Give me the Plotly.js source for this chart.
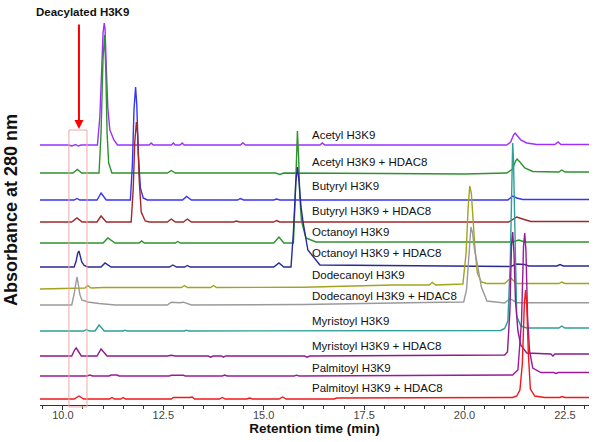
<!DOCTYPE html>
<html>
<head>
<meta charset="utf-8">
<script src="https://cdn.plot.ly/plotly-3.0.1.min.js"></script>
<style>html,body{margin:0;padding:0;background:#fff}#chart{width:600px;height:442px}</style>
</head>
<body>
<div id="chart"></div>
<script>
// ---- data (retention time in min, absorbance above each trace's baseline, arbitrary units) ----
var names = ["Acetyl H3K9", "Acetyl H3K9 + HDAC8", "Butyryl H3K9", "Butyryl H3K9 + HDAC8",
  "Octanoyl H3K9", "Octanoyl H3K9 + HDAC8", "Dodecanoyl H3K9", "Dodecanoyl H3K9 + HDAC8",
  "Myristoyl H3K9", "Myristoyl H3K9 + HDAC8", "Palmitoyl H3K9", "Palmitoyl H3K9 + HDAC8"];
var offsets = [260, 232, 205, 183, 162, 138, 117, 100, 74, 49, 29, 6];

var tA1 = [9.43, 10.15, 10.22, 10.27, 10.32, 10.38, 10.45, 10.86, 10.92, 10.97, 11.0, 11.03, 11.05, 11.08, 11.12, 11.17, 11.27, 11.36, 12.15, 12.2, 12.25, 12.7, 12.75, 12.8, 12.92, 12.97, 13.02, 14.42, 14.48, 14.55, 16.4, 16.46, 16.52, 21.05, 21.15, 21.22, 21.26, 21.32, 21.4, 21.55, 21.8, 22.25, 22.33, 22.4, 23.1];
var vA1 = [0, 0, -1, 0, 0.5, -1, 0, 0, 28, 80, 112, 122, 116, 78, 36, 15, 5, 0, 0, 2, 0, 0, 2, 0, 0, 2, 0, 0, 2, 0, 0, 2, 0, 0, 3, 10, 12, 9, 5, 2, 0.5, 0.5, 3, 0.5, 0.5];

var tA2 = [9.43, 10.25, 10.36, 10.47, 10.9, 10.95, 11.0, 11.04, 11.07, 11.1, 11.14, 11.22, 12.6, 12.7, 12.8, 15.3, 15.4, 15.5, 18.0, 20.0, 21.05, 21.2, 21.27, 21.31, 21.38, 21.5, 21.7, 22.0, 22.35, 22.42, 22.5, 23.1];
var vA2 = [0, 0, 3.5, 0, 0, 40, 115, 138, 100, 40, 10, 0, 0, 2.5, 0, 0, -1.5, 0, -0.5, -1, 0, 4, 12, 14, 11, 5, 1.5, 1, 1, 3, 1, 1];

var tB1 = [9.43, 10.28, 10.35, 10.42, 10.85, 10.95, 11.08, 11.68, 11.73, 11.77, 11.81, 11.84, 11.88, 11.93, 12.0, 12.1, 12.98, 13.08, 13.2, 14.35, 14.42, 14.5, 15.25, 15.32, 15.4, 21.08, 21.2, 21.3, 21.45, 23.1];
var vB1 = [0, 0, 1.5, 0, 0, 7, 0, 0, 35, 90, 113, 95, 45, 12, 2, 0, 0, 3.5, 0, 0, 1.5, 0, 0, 1, 0, 0, 4, 2, 0.5, 0.5];

var tB2 = [9.43, 10.22, 10.35, 10.48, 10.85, 10.95, 11.08, 11.7, 11.75, 11.79, 11.83, 11.86, 11.9, 11.95, 12.05, 12.15, 12.6, 12.7, 12.8, 13.0, 13.1, 13.2, 14.25, 14.32, 14.4, 15.25, 15.32, 15.4, 21.1, 21.3, 21.45, 21.65, 23.1];
var vB2 = [0, 0, 4, 0, 0, 6, 0, 0, 32, 80, 100, 88, 42, 10, 1, 0, 0, 3, 0, 0, 3, 0, 0, 1, 0, 0, 1.5, 0, 0, 5, 3, 0.5, 0.5];

var tO1 = [9.43, 11.0, 11.12, 11.3, 11.9, 11.96, 12.03, 12.8, 12.86, 12.93, 15.25, 15.38, 15.5, 15.74, 15.78, 15.81, 15.84, 15.87, 15.9, 15.94, 16.05, 16.3, 21.2, 21.35, 21.5, 23.1];
var vO1 = [0, 0, 5, 0, 0, 2, 0, 0, 1.5, 0, 0, 6, 0, 0, 40, 92, 112, 85, 45, 22, 5, 1, 1, 3, 1, 1];

var tO2 = [9.43, 10.28, 10.33, 10.37, 10.4, 10.43, 10.47, 10.53, 10.62, 10.95, 11.05, 11.2, 12.65, 12.74, 12.83, 13.03, 13.1, 13.17, 15.25, 15.38, 15.5, 15.68, 15.74, 15.8, 15.84, 15.88, 15.93, 15.98, 16.1, 16.4, 21.15, 21.3, 21.5, 21.6, 22.3, 22.38, 22.46, 23.1];
var vO2 = [0, 0, 6, 14, 16, 12, 5, 1.5, 0, 0, 4, 0, 0, 2, 0, 0, 1.5, 0, 0, 4, 0, 0, 35, 85, 100, 85, 60, 45, 17, 2, 0.5, 3, 2.5, 1, 1, 2.5, 1, 1];

var tD1 = [9.43, 10.2, 10.55, 10.62, 10.7, 11.0, 12.95, 13.03, 13.1, 13.68, 13.75, 13.82, 16.0, 18.2, 19.12, 19.2, 19.28, 19.96, 20.04, 20.09, 20.13, 20.17, 20.21, 20.26, 20.32, 20.42, 20.55, 21.0, 21.15, 21.3, 22.35, 22.42, 22.5, 23.1];
var vD1 = [-1, 0, 0, 2.5, 0, 0.5, 0.5, 2.5, 0.5, 0.5, 2.5, 0.5, 0.8, 3, 3, 5.5, 3, 4, 35, 80, 102, 95, 70, 40, 15, 6, 4.5, 4.5, 10, 4.5, 4.5, 6, 4.5, 4.5];

var tD2 = [9.43, 10.22, 10.28, 10.32, 10.35, 10.38, 10.42, 10.47, 10.55, 10.62, 10.9, 11.3, 12.6, 12.7, 12.9, 13.0, 13.2, 16.0, 19.0, 19.98, 20.05, 20.12, 20.16, 20.2, 20.25, 20.3, 20.42, 20.56, 21.0, 21.13, 21.3, 23.1];
var vD2 = [0, 0, 11, 24, 28, 22, 11, 5, 3.5, 3, 1.5, 0, 0, 2.8, 2.2, 2.8, 0, 0.5, 2.5, 3, 15, 55, 78, 72, 55, 45, 18, 4, 2, 6.5, 2.3, 2.3];

var tM1 = [9.43, 10.52, 10.59, 10.66, 10.8, 10.9, 11.03, 11.5, 11.55, 11.6, 13.03, 13.08, 13.13, 20.9, 21.0, 21.08, 21.14, 21.18, 21.2, 21.22, 21.26, 21.3, 21.4, 21.55, 22.35, 22.42, 22.5, 23.1];
var vM1 = [0, 0, 1.5, 0, 0, 6, 0, 0, 0.8, 0, 0, 0.8, 0, 0.5, 2.5, 10, 70, 170, 188, 170, 70, 15, 5, 3, 3, 5, 3, 3];

var tM2 = [9.43, 10.22, 10.29, 10.33, 10.38, 10.46, 10.85, 10.95, 11.1, 12.6, 12.7, 12.8, 13.62, 13.68, 13.74, 13.95, 14.0, 14.05, 16.02, 16.08, 16.15, 21.0, 21.07, 21.13, 21.17, 21.2, 21.23, 21.27, 21.33, 21.4, 21.55, 22.15, 22.2, 22.25, 23.1];
var vM2 = [0, 0, 6, 8, 5, 0, 0, 7, 0, 0, 0.8, 0, 0, -1.2, 0, 0, -1.2, 0, 0, -1.2, 0, 1, 4, 45, 110, 124, 105, 55, 25, 11, 3, 2, 0, 2, 2];

var tP1 = [9.43, 10.6, 10.67, 10.74, 11.15, 11.2, 11.35, 11.4, 12.65, 12.7, 13.0, 13.05, 13.97, 14.03, 14.09, 15.76, 15.82, 15.88, 21.2, 21.33, 21.42, 21.47, 21.5, 21.53, 21.57, 21.62, 21.7, 21.9, 22.22, 22.28, 22.34, 23.1];
var vP1 = [0, 0, 1, 0, 0, 1, 1, 0, 0, 0.7, 0.7, 0, 0, 1, 0, 0, 0.8, 0, 1, 6, 55, 130, 143, 125, 60, 25, 8, 3.5, 3.5, 2.5, 3.5, 3.5];

var tP2 = [9.43, 10.28, 10.4, 10.52, 11.16, 11.22, 11.28, 11.44, 11.5, 11.56, 12.7, 12.75, 13.15, 13.22, 13.28, 13.9, 13.97, 14.04, 14.58, 14.65, 14.72, 15.38, 15.47, 15.56, 16.75, 16.82, 21.2, 21.3, 21.38, 21.44, 21.49, 21.52, 21.55, 21.59, 21.64, 21.75, 22.0, 22.37, 22.43, 22.5, 23.1];
var vP2 = [0, 0, 3, 0, 0, 1.5, 0, 0, 1.5, 0, 0, 1.5, 1.5, 2, 0, 0, 1.5, 0, 0, 1, 0, 0, 2, 0, 0, 1, 1.5, 3, 9, 35, 95, 109, 95, 45, 10, 3, 1.5, 1.5, 2.5, 1.5, 1.5];

var times = [tA1, tA2, tB1, tB2, tO1, tO2, tD1, tD2, tM1, tM2, tP1, tP2];
var values = [vA1, vA2, vB1, vB2, vO1, vO2, vD1, vD2, vM1, vM2, vP1, vP2];

// ---- styling ----
var colors = ['#9B30FF', '#2E922E', '#3535F5', '#A02828', '#2E922E', '#2A2A96',
  '#A3A31E', '#9A9A9A', '#2E9E98', '#8E1A8E', '#9A1A9A', '#F01818'];
var labelY = [270, 243.3, 219.3, 194.3, 172.7, 151.7, 130, 109, 84, 59, 36.7, 16.7];
var FONT = 'Liberation Sans, Arial, Helvetica, sans-serif';

var traces = names.map(function (n, i) {
  return {
    type: 'scatter', mode: 'lines', name: n,
    x: times[i],
    y: values[i].map(function (v) { return v + offsets[i]; }),
    line: {color: colors[i], width: 1.4},
    hoverinfo: 'skip'
  };
});

var annotations = names.map(function (n, i) {
  return {
    xref: 'paper', yref: 'y', x: 0.492, y: labelY[i], xanchor: 'left', yanchor: 'middle',
    text: n, showarrow: false, font: {family: FONT, size: 11.5, color: '#111'}
  };
});
annotations.push({
  xref: 'paper', yref: 'paper', x: 0.0774, y: 1.0077, xanchor: 'center', yanchor: 'middle',
  text: 'Deacylated H3K9', showarrow: false,
  font: {family: FONT, size: 11.5, color: '#111', weight: 'bold'}
});
annotations.push({
  xref: 'x', yref: 'y', x: 10.40, y: 276, ax: 0, ay: -106, text: '',
  showarrow: true, arrowhead: 2, arrowsize: 0.9, arrowwidth: 2, arrowcolor: '#FF0000', standoff: 0
});

var layout = {
  width: 600, height: 442,
  margin: {l: 40, r: 11, t: 15, b: 37},
  paper_bgcolor: '#fff', plot_bgcolor: '#fff',
  showlegend: false,
  xaxis: {
    range: [9.43, 23.1], tick0: 10, dtick: 2.5, tickformat: '.1f',
    ticks: 'outside', ticklen: 4, tickwidth: 1, tickcolor: '#333',
    showline: true, linecolor: '#333', linewidth: 1,
    showgrid: false, zeroline: false,
    minor: {dtick: 0.5, ticks: 'outside', ticklen: 3, tickcolor: '#333', showgrid: false},
    tickfont: {family: FONT, size: 11, color: '#444'},
    ticklabelstandoff: -4,
    title: {text: 'Retention time (min)', standoff: 2,
      font: {family: FONT, size: 13.5, color: '#111', weight: 'bold'}}
  },
  yaxis: {
    range: [0, 390], showticklabels: false, ticks: '', showline: false,
    showgrid: false, zeroline: false,
    title: {text: 'Absorbance at 280 nm', standoff: 16,
      font: {family: FONT, size: 18, color: '#111', weight: 'bold'}}
  },
  shapes: [{
    type: 'rect', xref: 'x', yref: 'paper', x0: 10.15, x1: 10.60, y0: -0.005, y1: 0.705,
    line: {color: '#F2A8A8', width: 1}, fillcolor: 'rgba(0,0,0,0)'
  }],
  annotations: annotations
};

Plotly.newPlot('chart', traces, layout, {displayModeBar: false, staticPlot: true});
</script>
</body>
</html>
